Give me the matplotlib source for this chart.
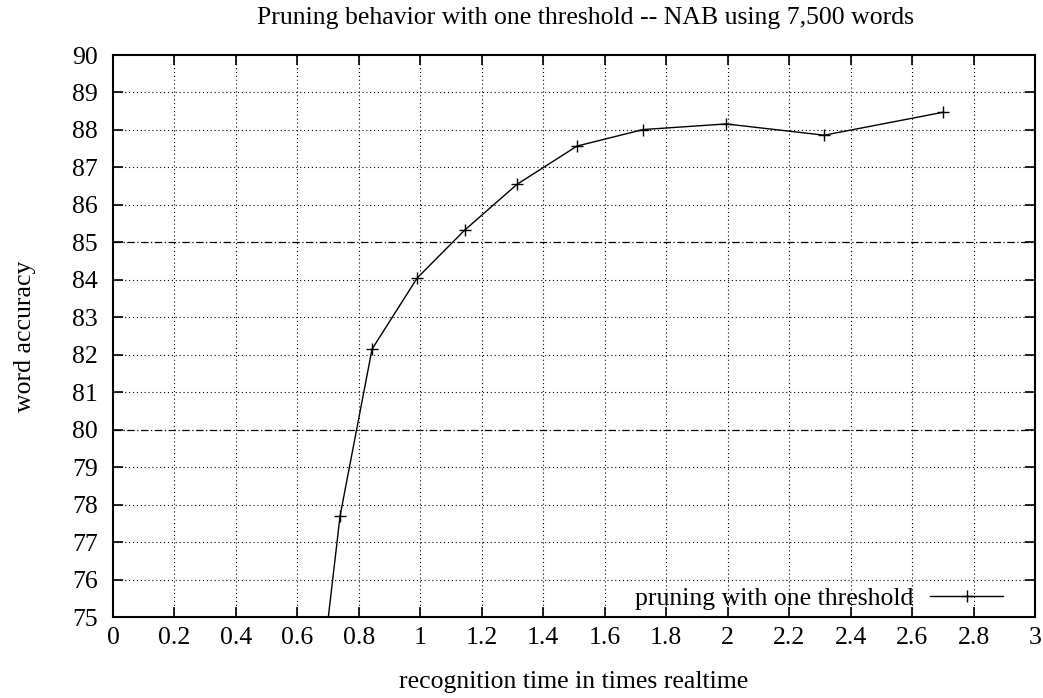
import matplotlib
matplotlib.use("Agg")
import matplotlib.pyplot as plt
import numpy as np

plt.rcParams['font.family'] = ['Liberation Serif', 'DejaVu Serif']

x_time = [0.63, 0.739, 0.843, 0.99, 1.145, 1.315, 1.51, 1.725, 1.995, 2.314, 2.70]
y_acc = [70.0, 77.7, 82.15, 84.05, 85.33, 86.55, 87.57, 88.01, 88.16, 87.86, 88.47]
x_ticks = [0, 0.2, 0.4, 0.6, 0.8, 1, 1.2, 1.4, 1.6, 1.8, 2, 2.2, 2.4, 2.6, 2.8, 3]
x_ticklabels = ['0', '0.2', '0.4', '0.6', '0.8', '1', '1.2', '1.4', '1.6', '1.8', '2', '2.2', '2.4', '2.6', '2.8', '3']
y_ticks = list(range(75, 91))
ref_lines = [80, 85]

fig = plt.figure(figsize=(10.43, 6.98), dpi=100)
ax = fig.add_axes([0.1083, 0.116, 0.8840, 0.8052])
ax.set_xlim(0, 3)
ax.set_ylim(75, 90)

fs = 18.5
for xv in x_ticks[1:-1]:
    ax.axvline(xv, color='black', linestyle=(0, (1, 2.5)), linewidth=0.8, zorder=1)
for yv in y_ticks[1:-1]:
    if yv in ref_lines:
        continue
    ax.axhline(yv, color='black', linestyle=(0, (1, 2.5)), linewidth=0.8, zorder=1)
for yv in ref_lines:
    ax.axhline(yv, color='black', linestyle=(0, (6, 2, 1, 2)), linewidth=0.9, zorder=1)

ax.plot(x_time, y_acc, color='black', linewidth=1.0, marker='+', markersize=9,
        markeredgewidth=1.0, label='pruning with one threshold', zorder=3, clip_on=True)

ax.set_xticks(x_ticks)
ax.set_xticklabels(x_ticklabels)
ax.set_yticks(y_ticks)
ax.tick_params(direction='in', top=True, right=True, length=7, width=1.2, labelsize=fs)
ax.tick_params(axis='x', pad=7)
ax.tick_params(axis='y', pad=11)
for s in ax.spines.values():
    s.set_linewidth(1.5)

ax.set_xlabel('recognition time in times realtime', fontsize=fs, labelpad=16)
ax.set_ylabel('word accuracy', fontsize=fs, labelpad=26)
ax.set_title('Pruning behavior with one threshold -- NAB using 7,500 words', fontsize=fs,
             pad=22, x=0.513)

leg = ax.legend(loc='lower right', fontsize=fs, frameon=False, markerfirst=False,
                handlelength=2.84, borderaxespad=0.0, handletextpad=0.66,
                bbox_to_anchor=(0.9765, -0.006))

fig.savefig('out.png', dpi=100)
